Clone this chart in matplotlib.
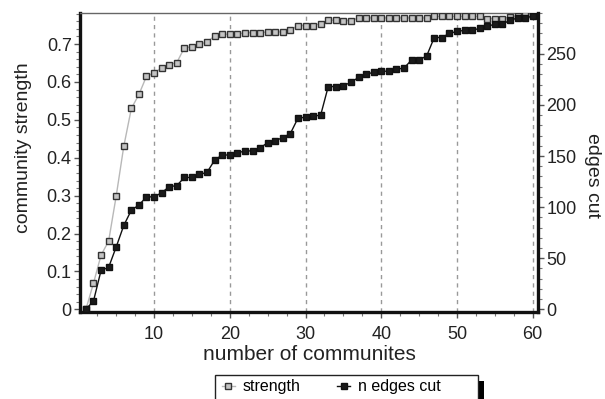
import matplotlib
matplotlib.use("Agg")
import matplotlib.pyplot as plt
from matplotlib.patches import Rectangle
from matplotlib.ticker import MultipleLocator

plt.rcParams['font.family'] = ['Liberation Sans', 'DejaVu Sans']

# number of communities 1..60
n_comm = list(range(1, 61))

# community strength (left axis)
strength = [0, 0.069, 0.143, 0.18, 0.299, 0.43, 0.53, 0.567, 0.615, 0.624,
            0.637, 0.646, 0.651, 0.69, 0.693, 0.699, 0.706, 0.721, 0.726, 0.726,
            0.726, 0.73, 0.73, 0.73, 0.732, 0.732, 0.732, 0.737, 0.749, 0.749,
            0.749, 0.754, 0.763, 0.763, 0.762, 0.762, 0.769, 0.769, 0.769, 0.769,
            0.769, 0.769, 0.769, 0.769, 0.769, 0.769, 0.773, 0.773, 0.773, 0.773,
            0.773, 0.773, 0.773, 0.767, 0.767, 0.767, 0.772, 0.775, 0.776, 0.778]

# number of edges cut (right axis)
edges_cut = [0, 8, 38, 41, 61, 82, 97, 102, 110, 110,
             114, 120, 121, 129, 129, 132, 134, 146, 151, 151,
             153, 155, 155, 158, 163, 165, 168, 172, 187, 188,
             189, 190, 218, 218, 219, 222, 227, 230, 232, 233,
             233, 235, 236, 244, 244, 248, 266, 266, 270, 272,
             273, 273, 275, 277, 279, 279, 283, 285, 285, 287]

x_ticks = [10, 20, 30, 40, 50, 60]

fig = plt.figure(figsize=(6.05, 3.99), dpi=100)
ax = fig.add_axes([80 / 605, 87 / 399, 458 / 605, 299 / 399])
ax2 = ax.twinx()

# strength series
l1, = ax.plot(n_comm, strength, color='#b8b8b8', lw=1, marker='s', markersize=5,
              markerfacecolor='#c4c4c4', markeredgecolor='#333333', markeredgewidth=1,
              zorder=3, label='strength')
# edges cut series
l2, = ax2.plot(n_comm, edges_cut, color='#111111', lw=1, marker='s', markersize=5,
               markerfacecolor='#1a1a1a', markeredgecolor='#111111', markeredgewidth=1,
               zorder=3, label='n edges cut')

ax.set_xlim(0.22, 60.7)
ax.set_ylim(-0.007, 0.782)
ax2.set_ylim(-2.7, 290)

ax.set_xticks(x_ticks)
ax.xaxis.set_minor_locator(MultipleLocator(2.5))
ax.yaxis.set_major_locator(MultipleLocator(0.1))
ax.yaxis.set_minor_locator(MultipleLocator(0.02))
ax2.yaxis.set_major_locator(MultipleLocator(50))
ax2.yaxis.set_minor_locator(MultipleLocator(10))
ax.set_yticklabels(['0' if abs(v) < 1e-9 else f'{v:.1f}' for v in ax.get_yticks()])

for a in (ax, ax2):
    a.tick_params(which='major', length=4, width=1, color='#555555',
                  labelsize=13, labelcolor='#222222', pad=2)
    a.tick_params(which='minor', length=3, width=0.8, color='#777777')
ax.tick_params(axis='x', which='major', pad=6)

ax.grid(axis='x', which='major', color='#999999', linestyle=(0, (3, 3)), lw=1)

# spines
for s in ('left', 'bottom'):
    ax.spines[s].set_linewidth(2.4)
    ax.spines[s].set_color('#111111')
ax.spines['top'].set_linewidth(1)
ax.spines['top'].set_color('#666666')
ax.spines['right'].set_visible(False)
ax2.spines['right'].set_linewidth(2.4)
ax2.spines['right'].set_color('#111111')
for s in ('left', 'bottom', 'top'):
    ax2.spines[s].set_visible(False)

ax.set_xlabel('number of communites', fontsize=15, color='#222222')
ax.xaxis.set_label_coords(0.5, -0.112)
ax.set_ylabel('community strength', fontsize=14, color='#222222',
              family=['Liberation Sans Narrow', 'Liberation Sans'])
ax.yaxis.set_label_coords(-0.124, 0.548)
ax.yaxis.label.set_va('center')
ax2.set_ylabel('edges cut', fontsize=14, color='#222222', rotation=270)
ax2.yaxis.set_label_coords(1.12, 0.458)
ax2.yaxis.label.set_va('center')

# legend box with black shadow below the plot
fig.patches.append(Rectangle((221 / 605, -0.1), 263 / 605, 1 - 381 / 399 + 0.1,
                             transform=fig.transFigure, facecolor='black',
                             edgecolor='none', zorder=1))
fig.patches.append(Rectangle((215 / 605, -0.1), 263 / 605, 1 - 375 / 399 + 0.1,
                             transform=fig.transFigure, facecolor='white',
                             edgecolor='#222222', lw=1, zorder=2))
leg = fig.legend([l1, l2], ['strength', 'n edges cut'], loc='center left',
                 bbox_to_anchor=(222 / 605, 1 - 387 / 399), frameon=False, ncol=2,
                 handlelength=0.8, handletextpad=0.5, columnspacing=2.3,
                 borderpad=0, borderaxespad=0, fontsize=11.5, markerscale=0.8)
leg.set_zorder(5)

fig.savefig('out.png', dpi=100)
